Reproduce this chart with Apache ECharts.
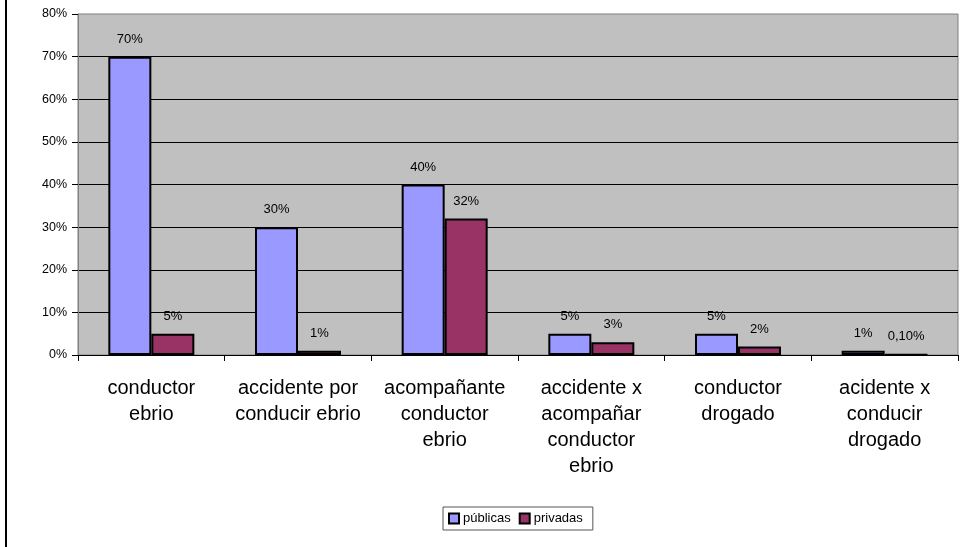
<!DOCTYPE html>
<html>
<head>
<meta charset="utf-8">
<script src="https://cdn.jsdelivr.net/npm/echarts@6/dist/echarts.min.js"></script>
<style>html,body{margin:0;padding:0;background:#fff}#c{width:980px;height:547px}</style>
</head>
<body>
<div id="c"></div>
<script>
const categories = ["conductor\nebrio", "accidente por\nconducir ebrio", "acompañante\nconductor\nebrio", "accidente x\nacompañar\nconductor\nebrio", "conductor\ndrogado", "acidente x\nconducir\ndrogado"];
const publicas = [70, 30, 40, 5, 5, 1];
const privadas = [5, 1, 32, 3, 2, 0.1];
const yTicks = [0, 10, 20, 30, 40, 50, 60, 70, 80];

function fmt(v) {
  if (Number.isInteger(v)) return v + '%';
  return v.toFixed(2).replace('.', ',') + '%';
}

const chart = echarts.init(document.getElementById('c'));
const labelCfg = {
  show: true, position: 'top', distance: 11,
  fontFamily: 'Liberation Sans, Arial, sans-serif', fontSize: 13, color: '#000',
  formatter: p => fmt(p.value)
};
chart.setOption({
  animation: false,
  textStyle: { fontFamily: 'Liberation Sans, Arial, sans-serif' },
  graphic: [{ type: 'rect', shape: { x: 5, y: 0, width: 2, height: 547 }, style: { fill: '#000' } }],
  grid: { left: 78, right: 22, top: 14, bottom: 192, show: true, backgroundColor: '#C0C0C0', borderColor: '#808080', borderWidth: 1 },
  legend: {
    left: 443, top: 507, padding: [5, 10, 5, 5], itemGap: 8, itemWidth: 10, itemHeight: 10,
    borderColor: '#555', borderWidth: 1, backgroundColor: '#fff',
    textStyle: { fontSize: 13, color: '#000', padding: [0, 0, 0, -1] },
    data: [
      { name: 'públicas', icon: 'rect', itemStyle: { borderColor: '#000', borderWidth: 2 } },
      { name: 'privadas', icon: 'rect', itemStyle: { borderColor: '#000', borderWidth: 2 } }
    ]
  },
  xAxis: {
    type: 'category', data: categories,
    axisLine: { lineStyle: { color: '#000', width: 1 } },
    axisTick: { show: true, length: 6, lineStyle: { color: '#000' } },
    axisLabel: { fontSize: 20, lineHeight: 26, color: '#000', margin: 20, interval: 0 }
  },
  yAxis: {
    type: 'value', min: 0, max: 80, interval: 10,
    axisLine: { show: true, lineStyle: { color: '#808080' } },
    axisTick: { show: true, length: 6, lineStyle: { color: '#000' } },
    axisLabel: { fontSize: 12.5, color: '#000', margin: 11, formatter: v => yTicks.includes(v) ? v + '%' : '' },
    splitLine: { show: true, showMinLine: false, showMaxLine: false, lineStyle: { color: '#000', width: 1 } }
  },
  series: [
    { name: 'públicas', type: 'bar', data: publicas, barWidth: 43, barGap: '0%',
      itemStyle: { color: '#9999FF', borderColor: '#000', borderWidth: 2 }, label: labelCfg },
    { name: 'privadas', type: 'bar', data: privadas, barWidth: 43, barGap: '0%',
      itemStyle: { color: '#993366', borderColor: '#000', borderWidth: 2 }, label: labelCfg }
  ]
});
</script>
</body>
</html>
